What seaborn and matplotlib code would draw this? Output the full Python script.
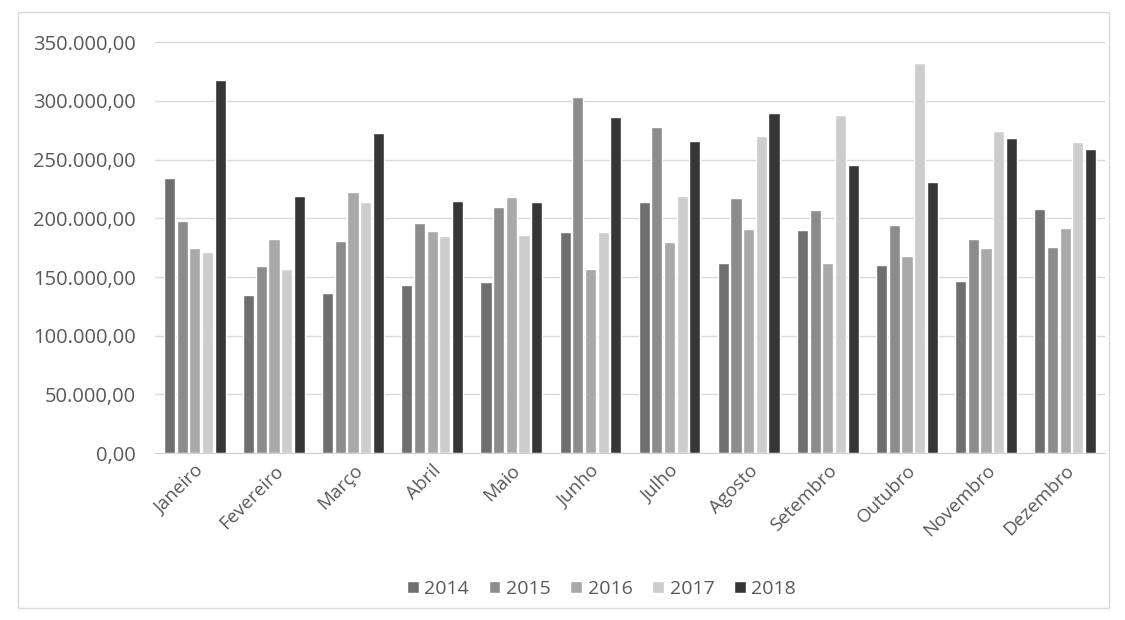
import numpy as np
import pandas as pd
import matplotlib
matplotlib.use("Agg")
import matplotlib.pyplot as plt
from matplotlib.ticker import FuncFormatter, MultipleLocator
import seaborn as sns

meses = ['Janeiro', 'Fevereiro', 'Março', 'Abril', 'Maio', 'Junho',
         'Julho', 'Agosto', 'Setembro', 'Outubro', 'Novembro', 'Dezembro']
anos = ['2014', '2015', '2016', '2017', '2018']

v2014 = [234000, 134500, 136000, 143000, 145500, 188000, 214000, 162000, 190000, 160000, 147000, 208000]
v2015 = [198000, 159000, 181000, 196000, 210000, 303000, 278000, 217000, 207000, 194000, 182000, 176000]
v2016 = [175000, 182000, 222000, 189000, 218000, 157000, 180000, 191000, 162000, 168000, 175000, 192000]
v2017 = [171000, 157000, 214000, 185000, 186000, 188000, 219000, 270000, 288000, 332000, 274000, 265000]
v2018 = [318000, 219000, 273000, 215000, 214000, 286000, 266000, 290000, 245000, 231000, 268000, 259000]

cores = ['#6f6f6f', '#8c8c8c', '#a9a9a9', '#cdcdcd', '#363636']

df = pd.DataFrame({'Mes': meses, '2014': v2014, '2015': v2015, '2016': v2016,
                   '2017': v2017, '2018': v2018})
df = df.melt(id_vars='Mes', var_name='Ano', value_name='Valor')

sns.set_style("white")
plt.rcParams['font.family'] = ['Open Sans', 'DejaVu Sans']

fig = plt.figure(figsize=(11.25, 6.2), dpi=100)
ax = fig.add_axes([0.138, 0.269, 0.844, 0.663])

sns.barplot(data=df, x='Mes', y='Valor', hue='Ano', hue_order=anos,
            palette=cores, width=0.8, gap=0.12, saturation=1, ax=ax)

ax.set_ylim(0, 350000)
ax.yaxis.set_major_locator(MultipleLocator(50000))


def fmt_br(v, pos):
    s = f"{v:,.2f}"
    return s.replace(',', 'X').replace('.', ',').replace('X', '.')


ax.yaxis.set_major_formatter(FuncFormatter(fmt_br))
ax.grid(axis='y', color='#d9d9d9', linewidth=1)
ax.set_axisbelow(True)
for s in ['top', 'right', 'left']:
    ax.spines[s].set_visible(False)
ax.spines['bottom'].set_color('#d0d0d0')
ax.set_xlabel('')
ax.set_ylabel('')
ax.tick_params(axis='y', length=0, labelsize=14.5, labelcolor='#595959', pad=14)
ax.tick_params(axis='x', length=0, labelsize=13.5, labelcolor='#595959', pad=6)
plt.setp(ax.get_xticklabels(), rotation=45, ha='right', rotation_mode='anchor')

leg = ax.legend(loc='center', bbox_to_anchor=(0.47, -0.33), ncol=5,
                frameon=False, fontsize=14, handlelength=0.6, handleheight=0.6,
                columnspacing=1.0, handletextpad=0.3)
for t in leg.get_texts():
    t.set_color('#595959')

# moldura do gráfico
fig.add_artist(plt.Rectangle((0.016, 0.02), 0.97, 0.96, transform=fig.transFigure,
                             fill=False, edgecolor='#d9d9d9', linewidth=1))

fig.savefig('out.png', dpi=100, facecolor='white')
